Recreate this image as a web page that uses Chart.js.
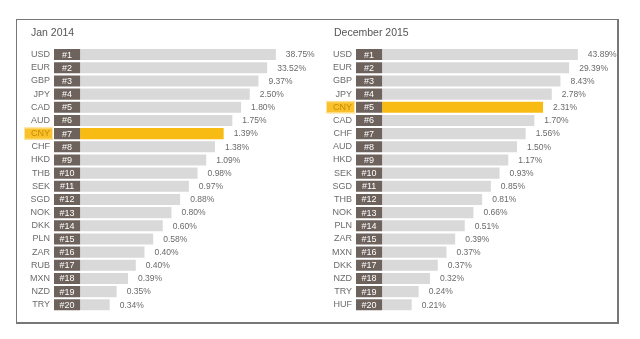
<!DOCTYPE html>
<html>
<head>
<meta charset="utf-8">
<script src="https://cdn.jsdelivr.net/npm/chart.js@4"></script>
<style>
  body { margin: 0; background: #fff; }
  #frame {
    position: absolute; left: 16px; top: 19px;
    width: 600px; height: 302px;
    border: 1px solid #777; border-right-width: 2px; border-bottom-width: 2px;
    display: flex;
  }
  canvas { display: block; }
</style>
</head>
<body>
<div id="frame">
  <canvas id="jan2014" width="300" height="302"></canvas>
  <canvas id="dec2015" width="300" height="302"></canvas>
</div>
<script>
// Moneda y cuota de pagos
const currencies2014 = ['USD', 'EUR', 'GBP', 'JPY', 'CAD', 'AUD', 'CNY', 'CHF', 'HKD', 'THB', 'SEK', 'SGD', 'NOK', 'DKK', 'PLN', 'ZAR', 'RUB', 'MXN', 'NZD', 'TRY'];
const shares2014 = [38.75, 33.52, 9.37, 2.50, 1.80, 1.75, 1.39, 1.38, 1.09, 0.98, 0.97, 0.88, 0.80, 0.60, 0.58, 0.40, 0.40, 0.39, 0.35, 0.34];

const currencies2015 = ['USD', 'EUR', 'GBP', 'JPY', 'CNY', 'CAD', 'CHF', 'AUD', 'HKD', 'SEK', 'SGD', 'THB', 'NOK', 'PLN', 'ZAR', 'MXN', 'DKK', 'NZD', 'TRY', 'HUF'];
const shares2015 = [43.89, 29.39, 8.43, 2.78, 2.31, 1.70, 1.56, 1.50, 1.17, 0.93, 0.85, 0.81, 0.66, 0.51, 0.39, 0.37, 0.37, 0.32, 0.24, 0.21];

const ranks = ['#1', '#2', '#3', '#4', '#5', '#6', '#7', '#8', '#9', '#10', '#11', '#12', '#13', '#14', '#15', '#16', '#17', '#18', '#19', '#20'];
// largo del embudo por posición (no es la cuota)
const funnel = [22.5, 21.5, 20.5, 19.5, 18.5, 17.5, 16.5, 15.5, 14.5, 13.5, 12.5, 11.5, 10.5, 9.5, 8.4, 7.4, 6.4, 5.5, 4.2, 3.4];
const rankTag = [-3, -3, -3, -3, -3, -3, -3, -3, -3, -3, -3, -3, -3, -3, -3, -3, -3, -3, -3, -3];

const FONT = '"Liberation Sans", Arial, sans-serif';
const GOLD = '#f8bb14';

const tagsPlugin = {
  id: 'tags',
  beforeDraw(chart, args, opts) {
    const ctx = chart.ctx;
    ctx.save();
    // título del panel
    ctx.font = '10.5px ' + FONT;
    ctx.fillStyle = '#555';
    ctx.textBaseline = 'middle';
    ctx.fillText(opts.title, opts.titleX, 13.5);
    // recuadro amarillo detrás del nombre resaltado
    const yc = chart.scales.y.getPixelForValue(opts.highlight);
    ctx.font = '9px ' + FONT;
    const w = ctx.measureText(chart.data.labels[opts.highlight]).width;
    const right = chart.chartArea.left - 1;
    const left = chart.chartArea.left - 4 - w - 7;
    ctx.fillStyle = '#f9c22c';
    ctx.fillRect(left, yc - 6, right - left, 12);
    ctx.strokeStyle = '#fde4a0';
    ctx.lineWidth = 1;
    ctx.strokeRect(left + 0.5, yc - 5.5, right - left - 1, 11);
    ctx.restore();
  },
  afterDatasetsDraw(chart, args, opts) {
    const ctx = chart.ctx;
    const tags = chart.getDatasetMeta(0).data;
    const bars = chart.getDatasetMeta(1).data;
    ctx.save();
    ctx.textBaseline = 'middle';
    tags.forEach((el, i) => {
      ctx.font = '9px ' + FONT;
      ctx.fillStyle = '#fff';
      ctx.textAlign = 'center';
      ctx.fillText(ranks[i], (el.x + el.base) / 2, el.y + 0.5);
    });
    bars.forEach((el, i) => {
      ctx.font = '8.5px ' + FONT;
      ctx.fillStyle = '#6a6a6a';
      ctx.textAlign = 'left';
      ctx.fillText(opts.shares[i].toFixed(2) + '%', el.x + 10, el.y + 0.5);
    });
    ctx.restore();
  }
};

function makePanel(id, title, labels, shares, titleX, axisWidth) {
  const hi = labels.indexOf('CNY');
  new Chart(document.getElementById(id), {
    type: 'bar',
    data: {
      labels: labels,
      datasets: [
        {
          data: rankTag,
          backgroundColor: '#6d625c',
          grouped: false,
          barPercentage: 0.84,
          categoryPercentage: 1
        },
        {
          data: funnel,
          backgroundColor: labels.map((c, i) => i === hi ? GOLD : '#d9d9d9'),
          grouped: false,
          barPercentage: 0.84,
          categoryPercentage: 1
        }
      ]
    },
    options: {
      indexAxis: 'y',
      responsive: false,
      animation: false,
      layout: { padding: { left: 0, right: 300 - axisWidth - 243.6, top: 28, bottom: 10.6 } },
      plugins: {
        legend: { display: false },
        tooltip: { enabled: false },
        title: { display: false },
        tags: { highlight: hi, shares: shares, title: title, titleX: titleX }
      },
      scales: {
        x: { display: false, min: -3, max: 25 },
        y: {
          afterFit: s => { s.width = axisWidth; },
          grid: { display: false, drawTicks: false },
          border: { display: false },
          ticks: {
            autoSkip: false,
            padding: 4,
            color: c => c.index === hi ? '#c98a00' : '#6b6b6b',
            font: { family: FONT, size: 9 }
          }
        }
      }
    },
    plugins: [tagsPlugin]
  });
}

makePanel('jan2014', 'Jan 2014', currencies2014, shares2014, 14, 37);
makePanel('dec2015', 'December 2015', currencies2015, shares2015, 17, 39);
</script>
</body>
</html>
